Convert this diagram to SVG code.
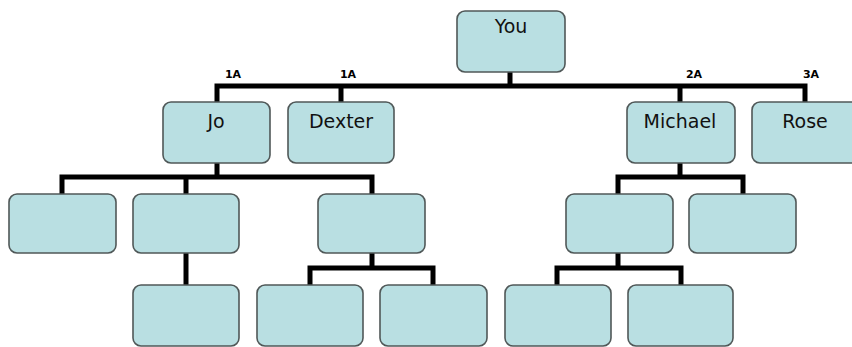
<svg xmlns="http://www.w3.org/2000/svg" width="852" height="347" viewBox="0 0 852 347">
<style>
.n rect{fill:#b9dfe2;stroke:#505858;stroke-width:1.6}
.n text{font-family:"DejaVu Sans",sans-serif;font-size:19px;fill:#111;text-anchor:middle}
.c{fill:none;stroke:#000;stroke-width:5;stroke-linejoin:miter;stroke-linecap:square}
.l{font-family:"DejaVu Sans",sans-serif;font-size:11px;font-weight:bold;fill:#000;text-anchor:middle}
</style>
<rect width="852" height="347" fill="#fff"/>
<g id="connectors">
<path class="c" d="M510 72V86M217 102V86H805V102M341 86V102M680 86V102"/>
<path class="c" d="M217 163V177M62 194V177H372V194M186 177V194"/>
<path class="c" d="M186 253V285"/>
<path class="c" d="M372 253V268M310 285V268H433V285"/>
<path class="c" d="M680 163V177M618 194V177H743V194"/>
<path class="c" d="M618 253V268M557 285V268H681V285"/>
</g>
<g id="labels">
<text class="l" x="233" y="78">1A</text>
<text class="l" x="348" y="78">1A</text>
<text class="l" x="694" y="78">2A</text>
<text class="l" x="811" y="78">3A</text>
</g>
<g id="you" class="n"><rect x="457" y="11" width="108" height="61" rx="8"/><text x="511" y="33">You</text></g>
<g id="jo" class="n"><rect x="163" y="102" width="107" height="61" rx="8"/><text x="216" y="128">Jo</text></g>
<g id="dexter" class="n"><rect x="288" y="102" width="106" height="61" rx="8"/><text x="341" y="128">Dexter</text></g>
<g id="michael" class="n"><rect x="627" y="102" width="108" height="61" rx="8"/><text x="680" y="128">Michael</text></g>
<g id="rose" class="n"><rect x="752" y="102" width="108" height="61" rx="8"/><text x="805" y="128">Rose</text></g>
<g id="jo-c1" class="n"><rect x="9" y="194" width="107" height="59" rx="8"/></g>
<g id="jo-c2" class="n"><rect x="133" y="194" width="106" height="59" rx="8"/></g>
<g id="jo-c3" class="n"><rect x="318" y="194" width="107" height="59" rx="8"/></g>
<g id="jo-c2-c1" class="n"><rect x="133" y="285" width="106" height="61" rx="8"/></g>
<g id="jo-c3-c1" class="n"><rect x="257" y="285" width="106" height="61" rx="8"/></g>
<g id="jo-c3-c2" class="n"><rect x="380" y="285" width="107" height="61" rx="8"/></g>
<g id="mi-c1" class="n"><rect x="566" y="194" width="107" height="59" rx="8"/></g>
<g id="mi-c2" class="n"><rect x="689" y="194" width="107" height="59" rx="8"/></g>
<g id="mi-c1-c1" class="n"><rect x="505" y="285" width="106" height="61" rx="8"/></g>
<g id="mi-c1-c2" class="n"><rect x="628" y="285" width="105" height="61" rx="8"/></g>
</svg>
